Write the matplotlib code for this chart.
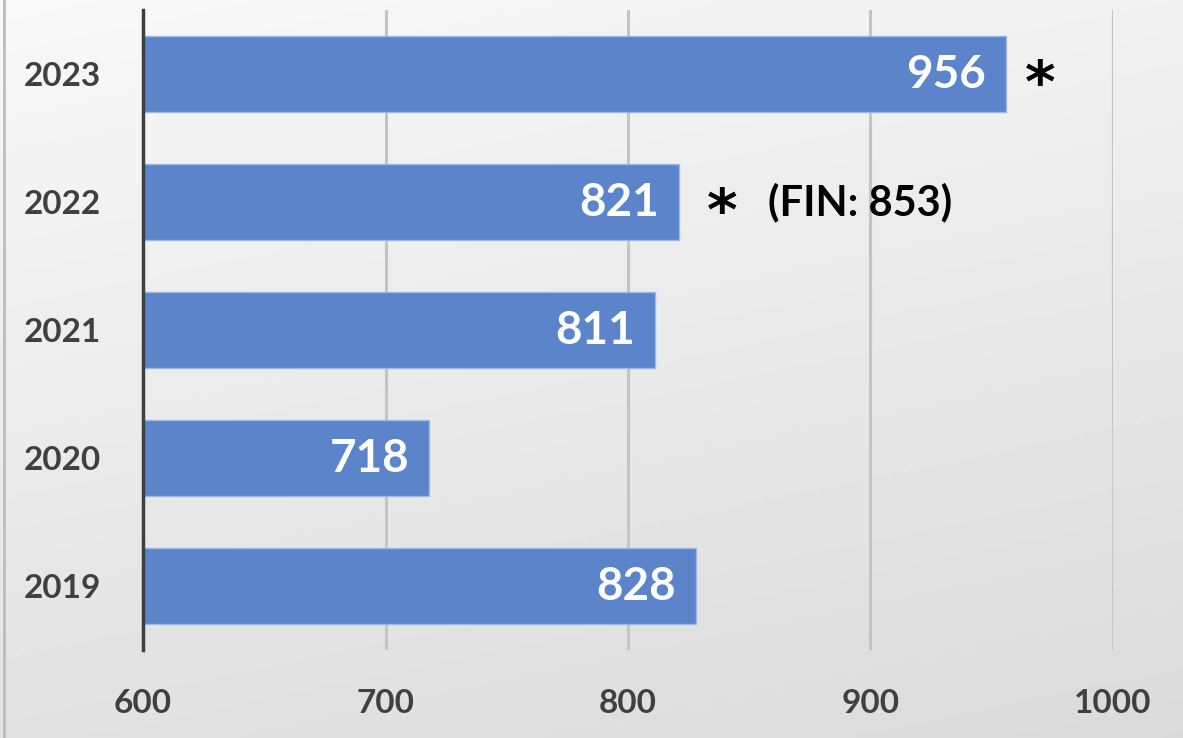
import numpy as np
import matplotlib.pyplot as plt

# data
years = ['2019', '2020', '2021', '2022', '2023']
values = [828, 718, 811, 821, 956]
notes = ['', '', '', '*', '*']
extra_notes = ['', '', '', '(FIN: 853)', '']
x_ticks = [600, 700, 800, 900, 1000]

plt.rcParams['font.family'] = ['Lato', 'DejaVu Sans']

fig = plt.figure(figsize=(11.83, 7.38), dpi=100)

# light gray diagonal gradient in the background
bg = fig.add_axes([0, 0, 1, 1], zorder=-10)
gx, gy = np.meshgrid(np.linspace(0, 1, 300), np.linspace(0, 1, 200))
shade = 0.975 - 0.12 * (0.75 * gy + 0.25 * gx)
bg.imshow(shade, cmap='gray', vmin=0, vmax=1, aspect='auto',
          extent=[0, 1, 0, 1], origin='upper')
bg.plot([0.003, 0.003], [0, 1], color='#bdbdbd', lw=2)
bg.set_xlim(0, 1)
bg.set_ylim(0, 1)
bg.axis('off')

ax = fig.add_axes([0.1209, 0.1192, 0.8199, 0.8672])
ax.set_facecolor('none')

ypos = np.arange(len(years))
bars = ax.barh(ypos, np.array(values) - x_ticks[0], left=x_ticks[0], height=0.6,
               color='#5B84CA', edgecolor='#9db8e4', linewidth=1, zorder=3)

star_gap = {3: 43, 4: 34}
for y, v, star, extra in zip(ypos, values, notes, extra_notes):
    ax.annotate(str(v), xy=(v, y), xytext=(-20, -1), textcoords='offset pixels',
                ha='right', va='center', color='white', fontsize=33,
                fontweight='bold', zorder=5)
    if star:
        ax.annotate(star, xy=(v, y), xytext=(star_gap[y], -11),
                    textcoords='offset pixels', ha='center', va='center',
                    color='black', fontsize=42, fontweight='bold',
                    family='DejaVu Sans', zorder=5)
    if extra:
        ax.annotate(extra, xy=(v, y), xytext=(89, 0), textcoords='offset pixels',
                    ha='left', va='center', color='black', fontsize=30,
                    fontweight='bold', zorder=5)

ax.set_xlim(x_ticks[0], x_ticks[-1])
ax.set_ylim(-0.5, len(years) - 0.5)
ax.set_xticks(x_ticks)
ax.set_xticklabels([str(t) for t in x_ticks])
ax.set_yticks(ypos)
ax.set_yticklabels(years)

for t in x_ticks[1:]:
    ax.axvline(t, color='#c4c4c4', lw=2.2, zorder=1)

for s in ['top', 'right', 'bottom']:
    ax.spines[s].set_visible(False)
ax.spines['left'].set_color('#404040')
ax.spines['left'].set_linewidth(2.5)
ax.spines['left'].set_zorder(4)

ax.tick_params(axis='both', length=0, labelsize=24, labelcolor='#404040')
ax.tick_params(axis='x', pad=28)
ax.tick_params(axis='y', pad=30)
for lab in ax.get_xticklabels() + ax.get_yticklabels():
    lab.set_fontweight('bold')

fig.savefig('out.png', dpi=100)
